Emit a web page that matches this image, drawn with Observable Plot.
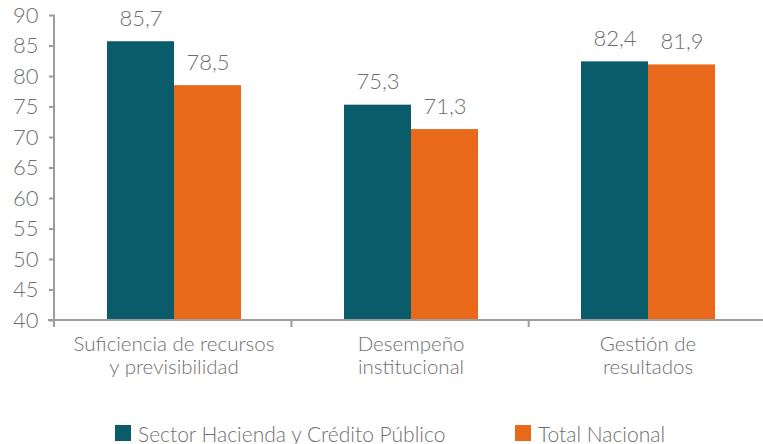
<!DOCTYPE html>
<html>
<head>
<meta charset="utf-8">
<script src="https://cdn.jsdelivr.net/npm/d3@7"></script>
<script src="https://cdn.jsdelivr.net/npm/@observablehq/plot@0.6"></script>
<style>
  html, body { margin: 0; padding: 0; background: #fff; }
  #wrap { position: relative; width: 763px; height: 444px; overflow: hidden; font-family: Lato, "Open Sans", sans-serif; font-weight: 300; color: #6f6f6f; }
  #wrap svg { display: block; }
  .item { position: absolute; top: 421px; height: 24px; display: flex; align-items: center; font-size: 21px; white-space: nowrap; }
  .sw { width: 16px; height: 16px; margin-right: 7px; display: inline-block; }
</style>
</head>
<body>
<div id="wrap"></div>
<script>
const categories = ["Suficiencia de recursos\ny previsibilidad", "Desempeño\ninstitucional", "Gestión de\nresultados"];
const series = ["Sector Hacienda y Crédito Público", "Total Nacional"];
const sectorValues = [85.7, 75.3, 82.4];
const totalValues = [78.5, 71.3, 81.9];
const yTicks = [40, 45, 50, 55, 60, 65, 70, 75, 80, 85, 90];
const colors = ["#0a5c6b", "#e8691a"];

const data = categories.flatMap((c, i) => [
  {cat: c, series: series[0], value: sectorValues[i]},
  {cat: c, series: series[1], value: totalValues[i]}
]);
const yMin = yTicks[0], yMax = yTicks[yTicks.length - 1];
const fmt = v => v.toFixed(1).replace(".", ",");
const textColor = "#6f6f6f";
const axisColor = "#9d9d9d";

const chart = Plot.plot({
  width: 763, height: 400,
  marginLeft: 54, marginRight: -3, marginTop: 15, marginBottom: 80,
  style: {fontFamily: "Lato, 'Open Sans', sans-serif", fontWeight: 300, fontSize: "17px", color: textColor, background: "white", overflow: "visible"},
  fx: {domain: categories, padding: 0, axis: null},
  x: {domain: series, paddingInner: 0, paddingOuter: 0.758, axis: null},
  y: {domain: [yMin, yMax], axis: null},
  color: {domain: series, range: colors},
  marks: [
    Plot.barY(data, {fx: "cat", x: "series", y1: () => yMin, y2: "value", fill: "series"}),
    Plot.text(data, {fx: "cat", x: "series", y: "value", text: d => fmt(d.value), lineAnchor: "bottom", dy: -16, fill: textColor, fontSize: 22}),
    Plot.text(categories, {fx: d => d, text: d => d, frameAnchor: "bottom", lineAnchor: "top", dy: 14, lineHeight: 1.13, fill: textColor, fontSize: 20.5}),
    Plot.axisY(yTicks, {tickSize: 6, tickPadding: 11, stroke: axisColor, strokeWidth: 2, fill: textColor, fontSize: 22, label: null})
  ]
});

document.getElementById("wrap").appendChild(chart);

// axis lines and group-boundary ticks derived from the plot's own scales
const fxs = chart.scale("fx");
const ys = chart.scale("y");
const band = d3.scaleBand().domain(fxs.domain).range(fxs.range).paddingInner(0).paddingOuter(0);
const yLin = d3.scaleLinear().domain(ys.domain).range(ys.range);
const x0 = band.range()[0], x1 = band.range()[1];
const yBase = yLin(yMin), yTop = yLin(yMax);
const g = d3.select(chart).append("g").attr("stroke", axisColor).attr("stroke-width", 2).attr("fill", "none");
g.append("line").attr("x1", x0).attr("x2", x0).attr("y1", yTop).attr("y2", yBase + 7);
g.append("line").attr("x1", x0 - 6).attr("x2", x1).attr("y1", yBase).attr("y2", yBase);
const edges = band.domain().map(d => band(d)).concat([x1]);
g.selectAll(".edge").data(edges).join("line")
  .attr("x1", d => d).attr("x2", d => d).attr("y1", yBase).attr("y2", yBase + 7);

// legend
const legendLeft = [115, 515];
series.forEach((s, i) => {
  const item = document.createElement("div");
  item.className = "item";
  item.style.left = legendLeft[i] + "px";
  item.innerHTML = `<span class="sw" style="background:${colors[i]}"></span><span>${s}</span>`;
  document.getElementById("wrap").appendChild(item);
});
</script>
</body>
</html>
